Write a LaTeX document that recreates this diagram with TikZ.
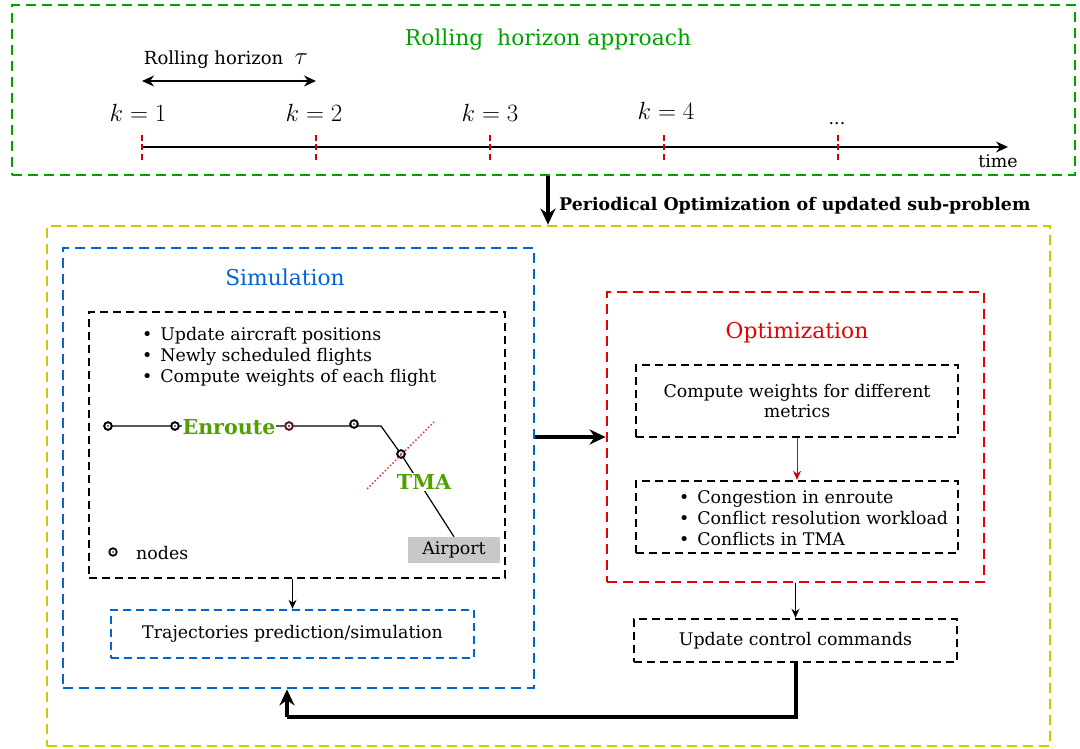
\documentclass[tikz,border=0pt]{standalone}
\usepackage{fontspec}
\setmainfont{DejaVu Serif}
\usetikzlibrary{arrows.meta}
\definecolor{rgreen}{RGB}{0,160,0}
\definecolor{ryellow}{RGB}{210,200,0}
\definecolor{rblue}{RGB}{0,100,210}
\definecolor{rred}{RGB}{230,0,0}
\definecolor{tickred}{RGB}{210,0,0}
\definecolor{lblgreen}{RGB}{80,160,0}
\definecolor{dotred}{RGB}{200,80,80}
\definecolor{darkred}{RGB}{90,20,40}
\definecolor{apgray}{RGB}{200,200,200}
\tikzset{
  frame/.style={draw, line width=2.8pt, dash pattern=on 10pt off 6pt, inner sep=0pt},
  dbox/.style={draw=black, line width=2.4pt, dash pattern=on 8pt off 5pt, inner sep=0pt, align=center, font=\fontsize{17.4}{20.5}\selectfont},
  bigarrow/.style={line width=4pt, -{Stealth[length=16pt,width=15pt]}},
  smallarrow/.style={line width=1pt, -{Stealth[length=9pt,width=8pt]}},
  txt/.style={font=\fontsize{17.4}{20.5}\selectfont, inner sep=0pt},
  ttl/.style={font=\fontsize{21.8}{25}\selectfont, inner sep=0pt},
  kl/.style={font=\fontsize{26}{28}\selectfont, inner sep=0pt},
  tick/.style={draw=tickred, line width=2pt, dash pattern=on 6pt off 3.5pt},
  apnode/.style={circle, draw=black, line width=1.8pt, fill=white, minimum size=7.5pt, inner sep=0pt},
  lbl/.style={font=\fontsize{20.6}{24}\selectfont\bfseries, text=lblgreen, fill=white, inner sep=1pt}
}
\newcommand{\bul}{\textbullet\hspace{0.45em}}
\begin{document}
\begin{tikzpicture}[x=1pt,y=-1pt]
\useasboundingbox (0,0) rectangle (1080,749);

% frames
\node[frame, draw=rgreen, minimum width=1063pt, minimum height=170pt] (rh) at (543.5,90) {};
\node[frame, draw=ryellow, minimum width=1003pt, minimum height=520pt] (yb) at (548.5,486) {};
\node[frame, draw=rblue, minimum width=471pt, minimum height=440pt] (sim) at (298.5,468) {};
\node[frame, draw=rred, minimum width=377pt, minimum height=290pt] (opt) at (795.5,437) {};

% rolling horizon part
\node[ttl, text=rgreen] (title) at (548,40) {Rolling\ \ horizon approach};
\node[txt, font=\fontsize{18}{20}\selectfont] (rhl) at (226,60) {Rolling horizon\ \ {\fontsize{25}{26}\selectfont$\tau$}};
\coordinate (ha) at (142,81);
\coordinate (hb) at (316,81);
\draw[line width=1.3pt, {Stealth[length=12pt,width=11pt]}-{Stealth[length=12pt,width=11pt]}] (ha) -- (hb);

\coordinate (t0) at (142,147);
\coordinate (tend) at (1008,147);
\draw[line width=1.3pt, -{Stealth[length=12pt,width=11pt]}] (t0) -- (tend);
\foreach \x/\n in {142/1,316/2,490/3,664/4,838/5}{
  \coordinate (ka\n) at (\x,135);
  \coordinate (kb\n) at (\x,160);
  \draw[tick] (ka\n) -- (kb\n);
}
\node[kl] (k1) at (138,113) {$k=1$};
\node[kl] (k2) at (314,113) {$k=2$};
\node[kl] (k3) at (490,113) {$k=3$};
\node[kl] (k4) at (666,111) {$k=4$};
\node[txt, anchor=base] (k5) at (837,125) {...};
\node[txt] (time) at (998,161) {time};

% periodical arrow
\coordinate (px) at (548,0);
\draw[bigarrow] (rh.south -| px) -- (yb.north -| px);
\node[txt, anchor=west, font=\fontsize{17.4}{20}\selectfont\bfseries] (per) at (559,206) {Periodical Optimization of updated sub-problem};

% simulation
\node[ttl, text=rblue] (simt) at (285,277) {Simulation};
\node[dbox, minimum width=416pt, minimum height=266pt] (sbox) at (297,445) {};
\node[txt, anchor=west, align=left, font=\fontsize{17.4}{21}\selectfont] (bul1) at (142,357) {\bul Update aircraft positions\\\bul Newly scheduled flights\\\bul Compute weights of each flight};

\node[txt, fill=apgray, minimum width=92pt, minimum height=26pt] (ap) at (454,550) {Airport};
\coordinate (bend) at (381,426);
\node[apnode] (n1) at (108,426) {};
\node[apnode] (n2) at (175,426) {};
\node[apnode, draw=darkred] (n3) at (289,426) {};
\node[apnode] (n4) at (354,424) {};
\node[apnode] (n5) at (401,454) {};
\draw[line width=1.2pt] (n1) -- (n2) -- (n3) -- (n4.east |- bend) -- (bend) -- (n5) -- (ap.north);
\foreach \n in {n1,n2,n4,n5}{\node[apnode] at (\n) {}; \fill[black!70] (\n) circle (1.2pt);}
\node[apnode, draw=darkred] at (n3) {};
\fill[darkred] (n3) circle (1.2pt);
\coordinate (da) at (367,489);
\coordinate (db) at (434,422);
\draw[dotred, line width=1.6pt, dotted] (da) -- (db);
\node[lbl] (enr) at (229,427) {Enroute};
\node[lbl] (tma) at (424,482) {TMA};
\node[apnode] (leg) at (113,552) {};
\fill[black!70] (leg) circle (1.2pt);
\node[txt, anchor=west] (legt) at (136,553) {nodes};

\node[dbox, draw=rblue, minimum width=363pt, minimum height=48pt] (traj) at (292.5,634) {Trajectories prediction/simulation};
\draw[smallarrow] (sbox.south -| traj.north) -- (traj.north);

% optimization
\node[ttl, text=rred] (optt) at (797,333) {Optimization};
\node[dbox, minimum width=322pt, minimum height=72pt] (cw) at (797,401) {Compute weights for different\\metrics};
\node[dbox, minimum width=322pt, minimum height=72pt] (met) at (797,517) {};
\node[txt, anchor=west, align=left, font=\fontsize{17.4}{21}\selectfont] (bul2) at (679,518) {\bul Congestion in enroute\\\bul Conflict resolution workload\\\bul Conflicts in TMA};
\draw[smallarrow, draw=tickred] (cw.south) -- (met.north);

\node[dbox, minimum width=323pt, minimum height=43pt] (upd) at (795.5,640.5) {Update control commands};
\draw[smallarrow] (opt.south -| upd.north) -- (upd.north);

% big arrows
\draw[bigarrow] (sim.east |- opt.west) -- (opt.west);
\coordinate (fb) at (287,717);
\draw[line width=4pt] (upd.south) |- (fb);
\draw[bigarrow] (fb) -- (fb |- sim.south);
\end{tikzpicture}
\end{document}
